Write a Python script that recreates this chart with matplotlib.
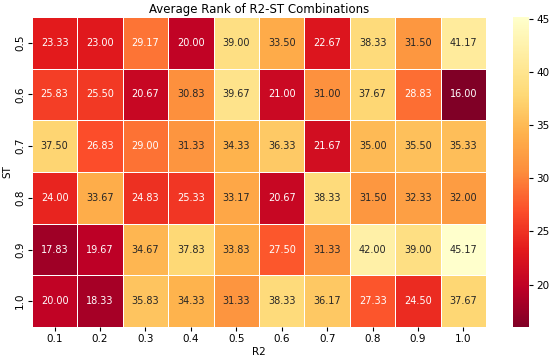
import numpy as np
import pandas as pd
import matplotlib
matplotlib.use("Agg")
import matplotlib.pyplot as plt
import seaborn as sns

r2_vals = ["0.1", "0.2", "0.3", "0.4", "0.5", "0.6", "0.7", "0.8", "0.9", "1.0"]
st_vals = ["0.5", "0.6", "0.7", "0.8", "0.9", "1.0"]

row_05 = [23.33, 23.00, 29.17, 20.00, 39.00, 33.50, 22.67, 38.33, 31.50, 41.17]
row_06 = [25.83, 25.50, 20.67, 30.83, 39.67, 21.00, 31.00, 37.67, 28.83, 16.00]
row_07 = [37.50, 26.83, 29.00, 31.33, 34.33, 36.33, 21.67, 35.00, 35.50, 35.33]
row_08 = [24.00, 33.67, 24.83, 25.33, 33.17, 20.67, 38.33, 31.50, 32.33, 32.00]
row_09 = [17.83, 19.67, 34.67, 37.83, 33.83, 27.50, 31.33, 42.00, 39.00, 45.17]
row_10 = [20.00, 18.33, 35.83, 34.33, 31.33, 38.33, 36.17, 27.33, 24.50, 37.67]

df = pd.DataFrame([row_05, row_06, row_07, row_08, row_09, row_10],
                  index=st_vals, columns=r2_vals)

fig = plt.figure(figsize=(5.5, 3.59), dpi=100)
ax = fig.add_axes([0.058, 0.089, 0.826, 0.864])
cax = fig.add_axes([0.933, 0.089, 0.029, 0.864])

sns.heatmap(df, ax=ax, cbar_ax=cax, cmap="YlOrRd_r", annot=True, fmt=".2f",
            linewidths=0.5, linecolor="white", annot_kws={"fontsize": 7})

ax.set_title("Average Rank of R2-ST Combinations", fontsize=8.5, pad=3)
ax.set_xlabel("R2", fontsize=7.5, labelpad=2)
ax.set_ylabel("ST", fontsize=7.5, labelpad=2)
ax.tick_params(labelsize=7.5, length=3, pad=2)
cax.tick_params(labelsize=7.5, length=3, pad=2)
cax.set_yticks([20, 25, 30, 35, 40, 45])

plt.savefig("out.png", dpi=100)
